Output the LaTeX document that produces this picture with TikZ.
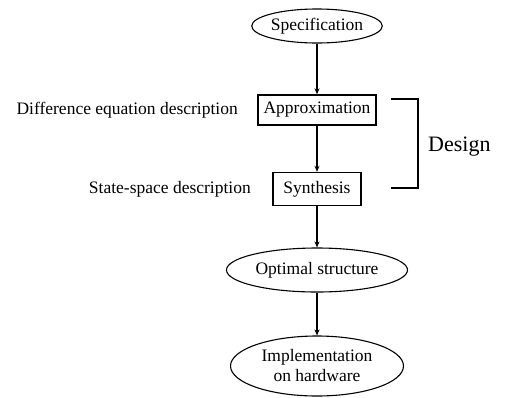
\documentclass[tikz,border=0pt]{standalone}
\usepackage{fontspec}
\setmainfont{Liberation Serif}
\usetikzlibrary{shapes.geometric,arrows.meta}
\begin{document}
\begin{tikzpicture}[x=1pt,y=-1pt,
  every node/.style={font=\fontsize{17.5}{20}\selectfont, inner sep=0pt},
  oval/.style={draw, ellipse, line width=1.1pt},
  boxnode/.style={draw, rectangle, line width=1.4pt},
  flow/.style={line width=1.1pt, -{Stealth[length=6pt,width=5pt]}},
  brk/.style={line width=1.1pt}]
\useasboundingbox (0,0) rectangle (505,397);
\node[oval, minimum width=116pt, minimum height=34pt] (spec) at (317,26) {Specification};
\node[boxnode, minimum width=118pt, minimum height=30pt] (approx) at (317,110) {Approximation};
\node[boxnode, minimum width=88pt, minimum height=33pt] (synth) at (317,189) {Synthesis};
\node[oval, minimum width=181pt, minimum height=44pt] (opt) at (317,270) {Optimal structure};
\node[oval, minimum width=173pt, minimum height=60pt, align=center] (impl) at (317,366) {Implementation\\on hardware};
\node[anchor=east] (dlab) at (238,110) {Difference equation description};
\node[anchor=east] (slab) at (251,189) {State-space description};
\node[anchor=west, font=\fontsize{22}{24}\selectfont] (design) at (428,147) {Design};
\coordinate (bt1) at (391,99);
\coordinate (bt2) at (418,99);
\coordinate (bb2) at (418,188);
\coordinate (bb1) at (391,188);
\draw[brk] (bt1) -- (bt2) -- (bb2) -- (bb1);
\draw[flow] (spec.south) -- (approx.north);
\draw[flow] (approx.south) -- (synth.north);
\draw[flow] (synth.south) -- (opt.north);
\draw[flow] (opt.south) -- (impl.north);
\end{tikzpicture}
\end{document}
